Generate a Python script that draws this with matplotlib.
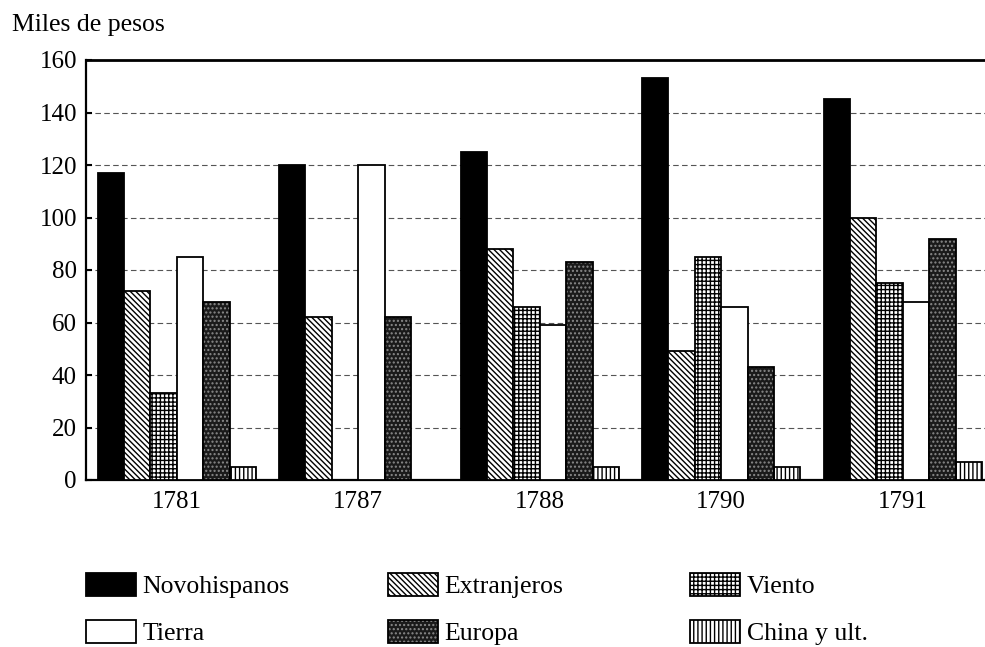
import matplotlib
matplotlib.use("Agg")
import matplotlib.pyplot as plt
from matplotlib.patches import Patch
import numpy as np

years = ["1781", "1787", "1788", "1790", "1791"]
novohispanos = [117, 120, 125, 153, 145]
extranjeros = [72, 62, 88, 49, 100]
viento = [33, 0, 66, 85, 75]
tierra = [85, 120, 59, 66, 68]
europa = [68, 62, 83, 43, 92]
china = [5, 0, 5, 5, 7]
yticks = [0, 20, 40, 60, 80, 100, 120, 140, 160]

plt.rcParams['font.family'] = ['Liberation Serif', 'DejaVu Serif']
plt.rcParams['hatch.linewidth'] = 1.0

fig = plt.figure(figsize=(9.85, 6.47), dpi=100)
ax = fig.add_axes([86/985, 1-480/647, 907.5/985, 420/647])

x = np.arange(len(years))
bw = 0.1455
lw = 1.3
off = lambda k: (k - 2.5) * bw
diag = '\\' * 6

ax.bar(x + off(0), novohispanos, bw, color='black', edgecolor='black', linewidth=lw, zorder=3)
ax.bar(x + off(1), extranjeros, bw, color='white', edgecolor='black', hatch=diag, linewidth=lw, zorder=3)
ax.bar(x + off(2), viento, bw, color='white', edgecolor='black', hatch='++++', linewidth=lw, zorder=3)
ax.bar(x + off(3), tierra, bw, color='white', edgecolor='black', linewidth=lw, zorder=3)
ax.bar(x + off(4), europa, bw, color='#1a1a1a', edgecolor='#8a8a8a', hatch='....', linewidth=0, zorder=3)
ax.bar(x + off(4), europa, bw, fill=False, edgecolor='black', linewidth=lw, zorder=4)
ax.bar(x + off(5), china, bw, color='white', edgecolor='black', hatch='||||', linewidth=lw, zorder=3)

ax.set_xlim(-0.5, 4.5)
ax.set_ylim(0, 160)
ax.set_yticks(yticks)
ax.set_xticks(x)
ax.set_xticklabels(years)
ax.tick_params(axis='y', direction='in', length=4.5, width=1.5, pad=6.5, labelsize=18)
ax.tick_params(axis='x', length=0, pad=8, labelsize=18)
for s in ['left', 'bottom', 'right']:
    ax.spines[s].set_linewidth(1.6)
ax.spines['top'].set_linewidth(2.0)
ax.yaxis.grid(True, color='#555555', linestyle=(0, (5, 3)), linewidth=0.8, zorder=0)
ax.set_axisbelow(True)

fig.text(12/985, 1-25/647, "Miles de pesos", ha='left', va='center', fontsize=18.5)

h_nov = Patch(facecolor='black', edgecolor='black', linewidth=lw)
h_ext = Patch(facecolor='white', edgecolor='black', hatch=diag, linewidth=lw)
h_vie = Patch(facecolor='white', edgecolor='black', hatch='++++', linewidth=lw)
h_tie = Patch(facecolor='white', edgecolor='black', linewidth=lw)
h_eur = (Patch(facecolor='#1a1a1a', edgecolor='#8a8a8a', hatch='....', linewidth=0),
         Patch(fill=False, edgecolor='black', linewidth=lw))
h_chi = Patch(facecolor='white', edgecolor='black', hatch='||||', linewidth=lw)

cols = [([h_nov, h_tie], ["Novohispanos", "Tierra"], 86),
        ([h_ext, h_eur], ["Extranjeros", "Europa"], 388),
        ([h_vie, h_chi], ["Viento", "China y ult."], 690)]
for hs, ls, px in cols:
    fig.legend(hs, ls, loc='upper left', bbox_to_anchor=(px/985, 1-573/647),
               frameon=False, fontsize=18.5, handlelength=1.95, handleheight=1.0,
               handletextpad=0.25, borderpad=0, borderaxespad=0, labelspacing=0.85)

fig.savefig("out.png", dpi=100, facecolor='white')
